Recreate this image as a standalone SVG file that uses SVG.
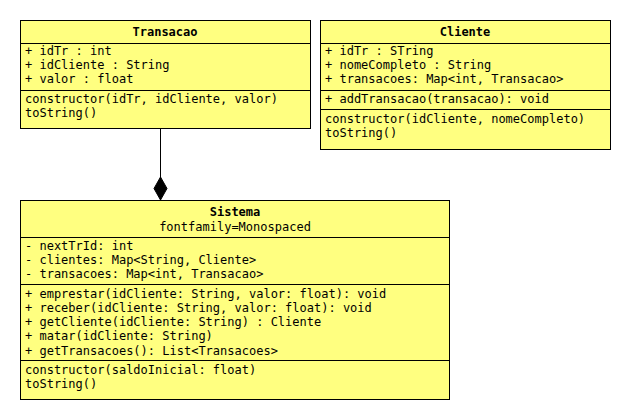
<svg xmlns="http://www.w3.org/2000/svg" width="630" height="420" viewBox="0 0 630 420">
<style>
.box{fill:#ffff80;stroke:#000;stroke-width:1}
.ln{stroke:#000;stroke-width:1}
text{font-family:"DejaVu Sans Mono","Liberation Mono",monospace;font-size:12px;fill:#000}
.t{font-weight:bold;text-anchor:middle}
.c{text-anchor:middle}
</style>
<rect width="630" height="420" fill="#fff"/>
<g id="connectors">
<line class="ln" x1="160.5" y1="128" x2="160.5" y2="178"/>
<polygon points="160.5,177 167,188.5 160.5,200 154,188.5" fill="#000" stroke="#000"/>
</g>
<g id="Transacao">
<rect class="box" x="20.5" y="20.5" width="290" height="108"/>
<line class="ln" x1="20.5" y1="43.5" x2="310.5" y2="43.5"/>
<line class="ln" x1="20.5" y1="90.5" x2="310.5" y2="90.5"/>
<text class="t" x="165" y="36">Transacao</text>
<text x="25" y="55">+ idTr : int</text>
<text x="25" y="69">+ idCliente : String</text>
<text x="25" y="83">+ valor : float</text>
<text x="25" y="103">constructor(idTr, idCliente, valor)</text>
<text x="25" y="117">toString()</text>
</g>
<g id="Cliente">
<rect class="box" x="320.5" y="20.5" width="290" height="129"/>
<line class="ln" x1="320.5" y1="43.5" x2="610.5" y2="43.5"/>
<line class="ln" x1="320.5" y1="90.5" x2="610.5" y2="90.5"/>
<line class="ln" x1="320.5" y1="109.5" x2="610.5" y2="109.5"/>
<text class="t" x="465" y="36">Cliente</text>
<text x="325" y="55">+ idTr : STring</text>
<text x="325" y="69">+ nomeCompleto : String</text>
<text x="325" y="83">+ transacoes: Map&lt;int, Transacao&gt;</text>
<text x="325" y="103">+ addTransacao(transacao): void</text>
<text x="325" y="123">constructor(idCliente, nomeCompleto)</text>
<text x="325" y="137">toString()</text>
</g>
<g id="Sistema">
<rect class="box" x="20.5" y="200.5" width="429" height="199"/>
<line class="ln" x1="20.5" y1="237.5" x2="449.5" y2="237.5"/>
<line class="ln" x1="20.5" y1="284.5" x2="449.5" y2="284.5"/>
<line class="ln" x1="20.5" y1="360.5" x2="449.5" y2="360.5"/>
<text class="t" x="235" y="216">Sistema</text>
<text class="c" x="235" y="231">fontfamily=Monospaced</text>
<text x="25" y="250">- nextTrId: int</text>
<text x="25" y="264">- clientes: Map&lt;String, Cliente&gt;</text>
<text x="25" y="278">- transacoes: Map&lt;int, Transacao&gt;</text>
<text x="25" y="298">+ emprestar(idCliente: String, valor: float): void</text>
<text x="25" y="312">+ receber(idCliente: String, valor: float): void</text>
<text x="25" y="326">+ getCliente(idCliente: String) : Cliente</text>
<text x="25" y="340">+ matar(idCliente: String)</text>
<text x="25" y="355">+ getTransacoes(): List&lt;Transacoes&gt;</text>
<text x="25" y="374">constructor(saldoInicial: float)</text>
<text x="25" y="388">toString()</text>
</g>
</svg>
